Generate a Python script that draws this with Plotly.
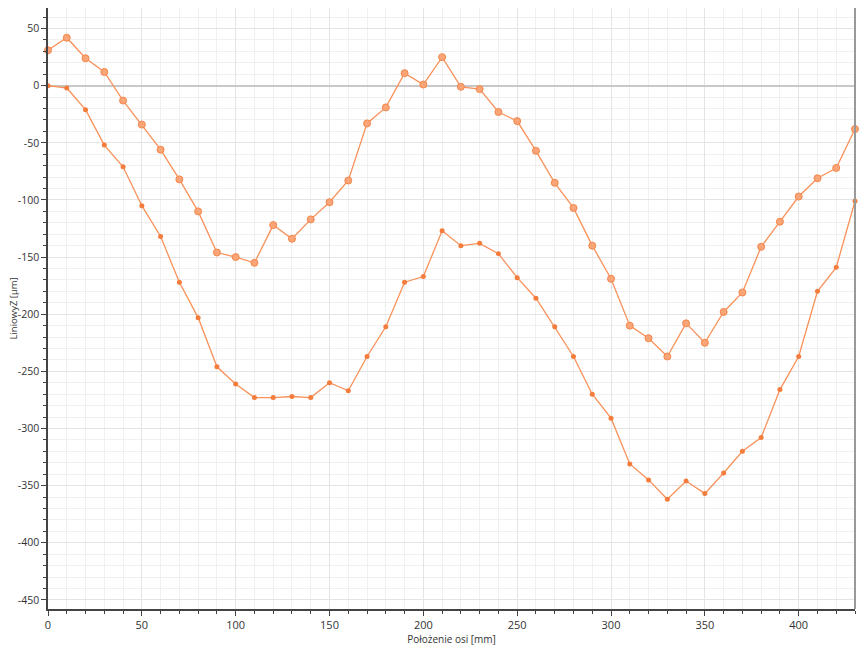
import plotly.graph_objects as go

# axis position [mm]
x_pos = [0, 10, 20, 30, 40, 50, 60, 70, 80, 90, 100, 110, 120, 130, 140, 150,
         160, 170, 180, 190, 200, 210, 220, 230, 240, 250, 260, 270, 280, 290,
         300, 310, 320, 330, 340, 350, 360, 370, 380, 390, 400, 410, 420, 430]

# LiniowyZ [um], upper run
z_upper = [31, 42, 24, 12, -13, -34, -56, -82, -110, -146, -150, -155, -122, -134,
           -117, -102, -83, -33, -19, 11, 1, 25, -1, -3, -23, -31, -57, -85, -107,
           -140, -169, -210, -221, -237, -208, -225, -198, -181, -141, -119, -97,
           -81, -72, -38]

# LiniowyZ [um], lower run
z_lower = [0, -2, -21, -52, -71, -105, -132, -172, -203, -246, -261, -273, -273,
           -272, -273, -260, -267, -237, -211, -172, -167, -127, -140, -138, -147,
           -168, -186, -211, -237, -270, -291, -331, -345, -362, -346, -357, -339,
           -320, -308, -266, -237, -180, -159, -101]

# y tick values and labels (plain hyphen as in the original)
y_ticks = [50, 0, -50, -100, -150, -200, -250, -300, -350, -400, -450]
y_tick_labels = ['50', '0', '-50', '-100', '-150', '-200', '-250', '-300',
                 '-350', '-400', '-450']

line_col = '#F99159'

fig = go.Figure()

fig.add_trace(go.Scatter(
    x=x_pos, y=z_upper, mode='lines+markers', cliponaxis=False,
    line=dict(color=line_col, width=1.3),
    marker=dict(size=7, color='#F9A577', line=dict(color='#F4874B', width=1)),
    showlegend=False
))

fig.add_trace(go.Scatter(
    x=x_pos, y=z_lower, mode='lines+markers', cliponaxis=False,
    line=dict(color=line_col, width=1.3),
    marker=dict(size=5, color='#F47C3C'),
    showlegend=False
))

# page body adds an 8px margin, so the figure is sized/offset to fit the window
fig.update_layout(
    width=859, height=645,
    margin=dict(l=40, r=12, t=0, b=44, autoexpand=False),
    paper_bgcolor='white', plot_bgcolor='white',
    font=dict(family='Open Sans', size=11, color='#333333'),
)

fig.update_xaxes(
    range=[0, 430], dtick=50, tick0=0, automargin=False,
    showgrid=True, gridcolor='#e4e4e4', gridwidth=1,
    zeroline=False,
    showline=True, linecolor='#444444', linewidth=1.5,
    ticks='outside', ticklen=5, tickcolor='#444444',
    minor=dict(dtick=10, showgrid=True, gridcolor='#f0f0f0',
               ticks='outside', ticklen=3, tickcolor='#444444'),
    title=dict(text='Położenie osi [mm]', font=dict(size=10), standoff=4),
)

fig.update_yaxes(
    range=[-458, 68], tickmode='array', tickvals=y_ticks, ticktext=y_tick_labels,
    tickfont=dict(size=10.5),
    automargin=False,
    showgrid=True, gridcolor='#e4e4e4', gridwidth=1,
    zeroline=True, zerolinecolor='#c8c8c8', zerolinewidth=1.5,
    showline=True, linecolor='#444444', linewidth=1.5,
    ticks='outside', ticklen=5, tickcolor='#444444',
    minor=dict(dtick=10, tick0=0, showgrid=True, gridcolor='#f0f0f0',
               ticks='outside', ticklen=3, tickcolor='#444444'),
)

# y title as annotation so it sits left of the tick labels
fig.add_annotation(
    text='LiniowyZ [µm]', textangle=-90,
    xref='paper', yref='paper', x=0, y=0.5,
    xanchor='center', yanchor='middle', xshift=-35,
    showarrow=False, font=dict(size=9.5, color='#333333'),
)

# right border of the plot area
fig.add_shape(type='line', xref='paper', yref='paper', x0=1, x1=1, y0=0, y1=1,
              line=dict(color='#999999', width=2))

fig.write_html("out.html")
